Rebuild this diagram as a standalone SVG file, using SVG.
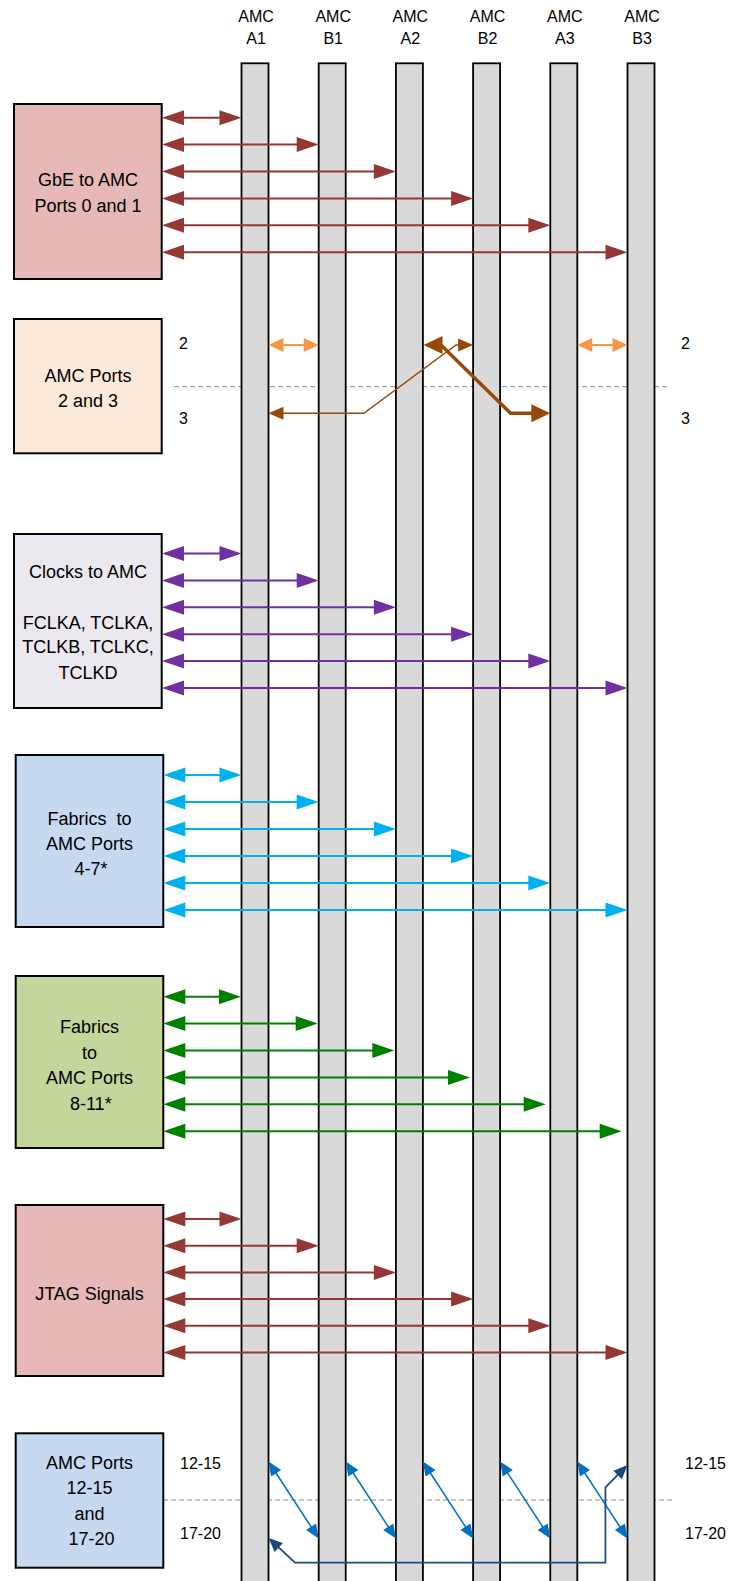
<svg xmlns="http://www.w3.org/2000/svg" width="730" height="1581" viewBox="0 0 730 1581">
<style>
text{font-family:"Liberation Sans",Arial,sans-serif;fill:#000}
.hdr{font-size:16px;text-anchor:middle}
.lbl{font-size:16px}
.bx{font-size:18px;text-anchor:middle}
.box{stroke:#000;stroke-width:2}
.bar{fill:#d9d9d9;stroke:#000;stroke-width:1.8}
.dash{stroke:#8c8c8c;stroke-width:1;stroke-dasharray:5 3;fill:none}
.c{fill:none}
.red{stroke:#953735;stroke-width:2;marker-start:url(#sRed);marker-end:url(#eRed)}
.pur{stroke:#7030a0;stroke-width:2;marker-start:url(#sPur);marker-end:url(#ePur)}
.cya{stroke:#00b0f0;stroke-width:2;marker-start:url(#sCya);marker-end:url(#eCya)}
.grn{stroke:#008000;stroke-width:2;marker-start:url(#sGrn);marker-end:url(#eGrn)}
.ora{stroke:#f79646;stroke-width:2;marker-start:url(#sOra);marker-end:url(#eOra)}
.brk{stroke:#984807;stroke-width:3.5;stroke-linejoin:round;marker-start:url(#sBrK);marker-end:url(#eBrK)}
.brn{stroke:#984807;stroke-width:1.5;marker-start:url(#sBrN);marker-end:url(#eBrN)}
.blu{stroke:#0070c0;stroke-width:1.5;marker-start:url(#sBlu);marker-end:url(#eBlu)}
.nav{stroke:#1f497d;stroke-width:1.75;marker-start:url(#sNav);marker-end:url(#eNav)}
</style>
<defs>
<marker id="eRed" markerUnits="userSpaceOnUse" markerWidth="22" markerHeight="15" refX="18" refY="7.5" orient="auto" overflow="visible"><path d="M0,0 L22,7.5 L0,15 z" fill="#953735"/></marker>
<marker id="sRed" markerUnits="userSpaceOnUse" markerWidth="22" markerHeight="15" refX="4" refY="7.5" orient="auto" overflow="visible"><path d="M22,0 L0,7.5 L22,15 z" fill="#953735"/></marker>
<marker id="ePur" markerUnits="userSpaceOnUse" markerWidth="22" markerHeight="15" refX="18" refY="7.5" orient="auto" overflow="visible"><path d="M0,0 L22,7.5 L0,15 z" fill="#7030a0"/></marker>
<marker id="sPur" markerUnits="userSpaceOnUse" markerWidth="22" markerHeight="15" refX="4" refY="7.5" orient="auto" overflow="visible"><path d="M22,0 L0,7.5 L22,15 z" fill="#7030a0"/></marker>
<marker id="eCya" markerUnits="userSpaceOnUse" markerWidth="22" markerHeight="15" refX="18" refY="7.5" orient="auto" overflow="visible"><path d="M0,0 L22,7.5 L0,15 z" fill="#00b0f0"/></marker>
<marker id="sCya" markerUnits="userSpaceOnUse" markerWidth="22" markerHeight="15" refX="4" refY="7.5" orient="auto" overflow="visible"><path d="M22,0 L0,7.5 L22,15 z" fill="#00b0f0"/></marker>
<marker id="eGrn" markerUnits="userSpaceOnUse" markerWidth="22" markerHeight="15" refX="18" refY="7.5" orient="auto" overflow="visible"><path d="M0,0 L22,7.5 L0,15 z" fill="#008000"/></marker>
<marker id="sGrn" markerUnits="userSpaceOnUse" markerWidth="22" markerHeight="15" refX="4" refY="7.5" orient="auto" overflow="visible"><path d="M22,0 L0,7.5 L22,15 z" fill="#008000"/></marker>
<marker id="eOra" markerUnits="userSpaceOnUse" markerWidth="15" markerHeight="14" refX="12" refY="7" orient="auto" overflow="visible"><path d="M0,0 L15,7 L0,14 z" fill="#f79646"/></marker>
<marker id="sOra" markerUnits="userSpaceOnUse" markerWidth="15" markerHeight="14" refX="3" refY="7" orient="auto" overflow="visible"><path d="M15,0 L0,7 L15,14 z" fill="#f79646"/></marker>
<marker id="eBrK" markerUnits="userSpaceOnUse" markerWidth="19" markerHeight="18" refX="15" refY="9" orient="auto" overflow="visible"><path d="M0,0 L19,9 L0,18 z" fill="#984807"/></marker>
<marker id="sBrK" markerUnits="userSpaceOnUse" markerWidth="19" markerHeight="18" refX="4" refY="9" orient="auto" overflow="visible"><path d="M19,0 L0,9 L19,18 z" fill="#984807"/></marker>
<marker id="eBrN" markerUnits="userSpaceOnUse" markerWidth="15" markerHeight="13" refX="12" refY="6.5" orient="auto" overflow="visible"><path d="M0,0 L15,6.5 L0,13 z" fill="#984807"/></marker>
<marker id="sBrN" markerUnits="userSpaceOnUse" markerWidth="15" markerHeight="13" refX="3" refY="6.5" orient="auto" overflow="visible"><path d="M15,0 L0,6.5 L15,13 z" fill="#984807"/></marker>
<marker id="eBlu" markerUnits="userSpaceOnUse" markerWidth="14" markerHeight="12" refX="11" refY="6" orient="auto" overflow="visible"><path d="M0,0 L14,6 L0,12 z" fill="#0070c0"/></marker>
<marker id="sBlu" markerUnits="userSpaceOnUse" markerWidth="14" markerHeight="12" refX="3" refY="6" orient="auto" overflow="visible"><path d="M14,0 L0,6 L14,12 z" fill="#0070c0"/></marker>
<marker id="eNav" markerUnits="userSpaceOnUse" markerWidth="14" markerHeight="12" refX="11" refY="6" orient="auto" overflow="visible"><path d="M0,0 L14,6 L0,12 z" fill="#1f497d"/></marker>
<marker id="sNav" markerUnits="userSpaceOnUse" markerWidth="14" markerHeight="12" refX="3" refY="6" orient="auto" overflow="visible"><path d="M14,0 L0,6 L14,12 z" fill="#1f497d"/></marker>
</defs>
<rect width="730" height="1581" fill="#fff"/>

<g id="dividers">
<line class="dash" x1="174" y1="386.7" x2="670" y2="386.7"/>
<line class="dash" x1="163" y1="1500" x2="674" y2="1500"/>
</g>

<g id="amc-modules">
<g id="amc-a1"><text class="hdr" x="256" y="22">AMC</text><text class="hdr" x="256" y="44">A1</text><rect class="bar" x="241.5" y="63.3" width="27" height="1530"/></g>
<g id="amc-b1"><text class="hdr" x="333.2" y="22">AMC</text><text class="hdr" x="333.2" y="44">B1</text><rect class="bar" x="318.7" y="63.3" width="27" height="1530"/></g>
<g id="amc-a2"><text class="hdr" x="410.4" y="22">AMC</text><text class="hdr" x="410.4" y="44">A2</text><rect class="bar" x="395.9" y="63.3" width="27" height="1530"/></g>
<g id="amc-b2"><text class="hdr" x="487.6" y="22">AMC</text><text class="hdr" x="487.6" y="44">B2</text><rect class="bar" x="473.1" y="63.3" width="27" height="1530"/></g>
<g id="amc-a3"><text class="hdr" x="564.8" y="22">AMC</text><text class="hdr" x="564.8" y="44">A3</text><rect class="bar" x="550.3" y="63.3" width="27" height="1530"/></g>
<g id="amc-b3"><text class="hdr" x="642" y="22">AMC</text><text class="hdr" x="642" y="44">B3</text><rect class="bar" x="627.5" y="63.3" width="27" height="1530"/></g>
</g>

<g id="gbe">
<rect class="box" x="14" y="104" width="147.7" height="175" fill="#e6b9b8"/>
<text class="bx" x="88" y="185.5">GbE to AMC</text>
<text class="bx" x="88" y="211.5">Ports 0 and 1</text>
</g>
<g id="ports23">
<rect class="box" x="14" y="319" width="147.7" height="134.3" fill="#fde9d9"/>
<text class="bx" x="88" y="381.5">AMC Ports</text>
<text class="bx" x="88" y="406.5">2 and 3</text>
</g>
<g id="clocks">
<rect class="box" x="14" y="534" width="147.7" height="174" fill="#ebe8f0"/>
<text class="bx" x="88" y="577.5">Clocks to AMC</text>
<text class="bx" x="88" y="629">FCLKA, TCLKA,</text>
<text class="bx" x="88" y="653">TCLKB, TCLKC,</text>
<text class="bx" x="88" y="679">TCLKD</text>
</g>
<g id="fabrics47">
<rect class="box" x="15.7" y="755" width="147.6" height="172" fill="#c6d9f1"/>
<text class="bx" x="89.5" y="824.5" style="white-space:pre">Fabrics  to</text>
<text class="bx" x="89.5" y="850">AMC Ports</text>
<text class="bx" x="91" y="875">4-7*</text>
</g>
<g id="fabrics811">
<rect class="box" x="15.7" y="976" width="147.6" height="172" fill="#c3d69b"/>
<text class="bx" x="89.5" y="1032.5">Fabrics</text>
<text class="bx" x="89.5" y="1059">to</text>
<text class="bx" x="89.5" y="1084">AMC Ports</text>
<text class="bx" x="90.8" y="1109.8">8-11*</text>
</g>
<g id="jtag">
<rect class="box" x="15.7" y="1205" width="147.6" height="171" fill="#e6b9b8"/>
<text class="bx" x="89.5" y="1299.8">JTAG Signals</text>
</g>
<g id="ports1220">
<rect class="box" x="15.7" y="1433.3" width="147.6" height="134.4" fill="#c6d9f1"/>
<text class="bx" x="89.5" y="1469.2">AMC Ports</text>
<text class="bx" x="89.5" y="1494.2">12-15</text>
<text class="bx" x="89.5" y="1520">and</text>
<text class="bx" x="91.5" y="1544.8">17-20</text>
</g>

<g id="row-labels">
<text class="lbl" x="183.5" y="349" text-anchor="middle">2</text>
<text class="lbl" x="183.5" y="424" text-anchor="middle">3</text>
<text class="lbl" x="685.5" y="349" text-anchor="middle">2</text>
<text class="lbl" x="685.5" y="424" text-anchor="middle">3</text>
<text class="lbl" x="180" y="1469">12-15</text>
<text class="lbl" x="180" y="1539">17-20</text>
<text class="lbl" x="685" y="1469">12-15</text>
<text class="lbl" x="685" y="1539">17-20</text>
</g>

<g id="connectors" class="c">
<path class="red" d="M166 117.7H237.5"/>
<path class="red" d="M166 144.6H314.7"/>
<path class="red" d="M166 171.5H391.9"/>
<path class="red" d="M166 198.4H469.1"/>
<path class="red" d="M166 225.3H546.3"/>
<path class="red" d="M166 252.2H623.5"/>

<path class="ora" d="M271.5 345H315.7"/>
<path class="ora" d="M580.3 345H624.5"/>
<path class="brn" d="M271.5 413.3H363.8L456 345H470.1"/>
<path class="brk" d="M427.5 345H441L510.6 413.3H546.3"/>

<path class="pur" d="M166 553.5H237.5"/>
<path class="pur" d="M166 580.4H314.7"/>
<path class="pur" d="M166 607.3H391.9"/>
<path class="pur" d="M166 634.2H469.1"/>
<path class="pur" d="M166 661.1H546.3"/>
<path class="pur" d="M166 688H623.5"/>

<path class="cya" d="M167.3 775H237.5"/>
<path class="cya" d="M167.3 802H314.7"/>
<path class="cya" d="M167.3 829H391.9"/>
<path class="cya" d="M167.3 856H469.1"/>
<path class="cya" d="M167.3 883H546.3"/>
<path class="cya" d="M167.3 910H623.5"/>

<path class="grn" d="M167.3 996.7H237"/>
<path class="grn" d="M167.3 1023.6H313.7"/>
<path class="grn" d="M167.3 1050.5H390.3"/>
<path class="grn" d="M167.3 1077.4H466"/>
<path class="grn" d="M167.3 1104.3H541.7"/>
<path class="grn" d="M167.3 1131.2H617.7"/>

<path class="red" d="M167.3 1219H237.5"/>
<path class="red" d="M167.3 1245.7H314.7"/>
<path class="red" d="M167.3 1272.4H391.9"/>
<path class="red" d="M167.3 1299.1H469.1"/>
<path class="red" d="M167.3 1325.8H546.3"/>
<path class="red" d="M167.3 1352.5H623.5"/>

<path class="blu" d="M270.14 1464L317.06 1536"/>
<path class="blu" d="M347.34 1464L394.26 1536"/>
<path class="blu" d="M424.54 1464L471.46 1536"/>
<path class="blu" d="M501.74 1464L548.66 1536"/>
<path class="blu" d="M578.94 1464L625.86 1536"/>
<path class="nav" d="M270.7 1540L295 1562.7H605.4V1487.3L625.4 1467.1"/>
</g>
</svg>
